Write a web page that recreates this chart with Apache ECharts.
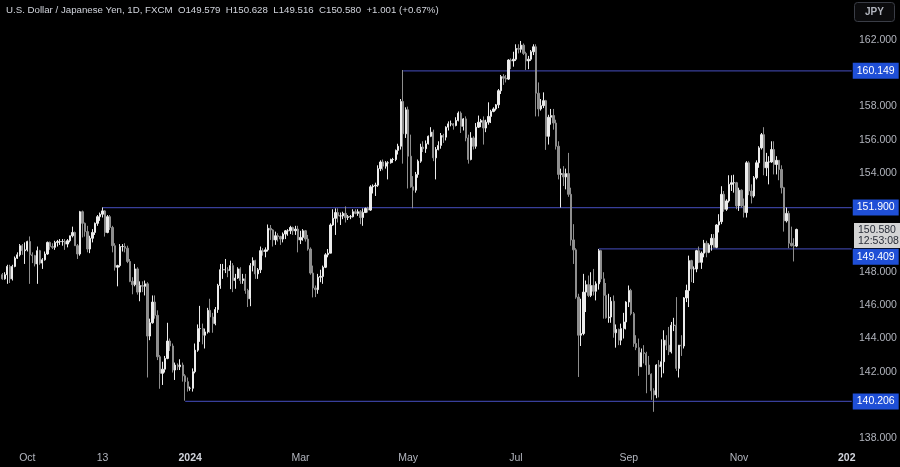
<!DOCTYPE html>
<html><head><meta charset="utf-8">
<script src="https://cdn.jsdelivr.net/npm/echarts@6/dist/echarts.min.js"></script>
<style>html,body{margin:0;padding:0;background:#000;}#c{width:900px;height:467px;}</style>
</head><body><div id="c"></div>
<script>
// ---- data ----
const titleText = 'U.S. Dollar / Japanese Yen, 1D, FXCM  O149.579  H150.628  L149.516  C150.580  +1.001 (+0.67%)';
const firstDay = '2023-09-18';   // first trading day shown
const totalSlots = 340;          // trading-day slots on the time axis (incl. empty future)
// daily candles: [open, high, low, close]
const ohlc = [
 [147.85,147.95,147.55,147.60],[147.60,148.00,147.55,147.85],[147.85,148.45,147.30,148.35],[148.35,148.45,147.35,147.60],[147.60,148.45,147.50,148.35],
 [148.35,148.95,148.30,148.85],[148.85,149.20,148.80,149.05],[149.05,149.70,148.95,149.60],[149.60,149.70,149.05,149.30],[149.30,149.80,148.50,149.35],
 [149.35,149.90,149.25,149.85],[149.85,150.16,147.30,149.05],[149.05,149.20,148.55,149.00],[149.00,149.05,148.35,148.50],[148.50,149.55,147.30,149.30],
 [149.30,149.35,148.45,148.55],[148.55,148.85,148.20,148.75],[148.75,149.25,148.70,149.10],[149.10,149.85,149.05,149.80],[149.80,149.85,149.35,149.55],
 [149.55,149.75,149.40,149.50],[149.50,149.90,149.35,149.80],[149.80,149.95,149.55,149.85],[149.85,150.00,149.65,149.85],[149.85,150.00,149.60,149.85],
 [149.85,150.00,149.35,149.70],[149.70,150.00,149.50,149.90],[149.90,150.20,149.80,150.20],[150.20,150.75,150.10,150.40],[150.40,150.45,149.60,149.60],
 [149.60,149.70,148.80,149.10],[149.10,151.70,149.00,151.65],[151.65,151.72,150.10,150.95],[150.95,151.00,150.15,150.45],[150.45,150.80,149.20,149.40],
 [149.40,150.20,149.15,150.05],[150.05,150.60,149.80,150.40],[150.40,151.00,150.25,150.95],[150.95,151.45,150.80,151.35],[151.35,151.60,151.10,151.50],
 [151.50,151.91,151.30,151.70],[151.70,151.75,150.15,150.40],[150.40,151.45,150.35,151.35],[151.35,151.45,150.55,150.70],[150.70,150.80,149.20,149.60],
 [149.60,149.75,148.10,148.30],[148.30,148.45,147.15,148.40],[148.40,149.70,148.30,149.55],[149.55,149.70,149.25,149.55],[149.55,149.75,149.20,149.45],
 [149.45,149.60,148.55,148.65],[148.65,148.80,147.40,147.45],[147.45,147.70,146.67,147.25],[147.25,148.50,147.15,148.20],[148.20,148.30,146.65,146.80],
 [146.80,147.45,146.25,147.20],[147.20,147.45,146.80,147.15],[147.15,147.50,146.60,147.30],[147.30,147.40,141.65,144.15],[144.15,145.20,143.90,144.95],
 [144.95,146.60,144.90,146.20],[146.20,146.60,145.20,145.40],[145.40,145.70,142.70,142.90],[142.90,143.00,140.97,141.90],[141.90,142.60,141.20,142.15],
 [142.15,142.95,141.95,142.80],[142.80,144.95,142.75,143.85],[143.85,144.00,143.25,143.55],[143.55,143.70,141.95,142.10],[142.10,142.55,141.50,142.40],
 [142.40,142.50,142.10,142.30],[142.30,142.75,142.10,142.40],[142.40,142.55,141.40,141.75],[141.75,141.85,140.25,141.40],[141.40,141.65,140.80,141.00],
 [141.00,141.10,140.85,141.00],[141.00,142.20,140.80,142.00],[142.00,143.70,141.90,143.30],[143.30,144.85,143.20,144.60],[144.60,145.97,143.80,144.60],
 [144.60,144.90,143.65,144.20],[144.20,144.60,143.40,144.40],[144.40,145.85,144.30,145.70],[145.70,146.40,144.35,145.30],[145.30,145.55,144.35,144.90],
 [144.90,145.90,144.80,145.75],[145.75,147.30,145.55,147.20],[147.20,148.50,147.00,148.15],[148.15,148.50,147.60,148.15],[148.15,148.80,147.95,148.15],
 [148.15,148.30,147.70,148.10],[148.10,148.70,146.98,148.40],[148.40,148.55,146.80,147.50],[147.50,147.90,147.00,147.65],[147.65,148.30,147.60,148.20],
 [148.20,148.30,147.30,147.50],[147.50,147.90,147.30,147.60],[147.60,147.90,146.70,146.90],[146.90,147.00,145.90,146.40],[146.40,148.55,145.95,148.40],
 [148.40,148.90,148.05,148.70],[148.70,148.75,147.60,147.90],[147.90,148.25,147.60,148.15],[148.15,149.55,147.95,149.30],[149.30,149.45,149.00,149.25],
 [149.25,149.50,148.90,149.35],[149.35,150.88,149.25,150.65],[150.65,150.85,149.95,150.55],[150.55,150.60,149.55,149.95],[149.95,150.45,149.65,150.20],
 [150.20,150.35,149.85,150.15],[150.15,150.20,149.65,150.00],[150.00,150.40,149.80,150.30],[150.30,150.55,150.00,150.50],[150.50,150.60,150.20,150.50],
 [150.50,150.80,150.30,150.70],[150.70,150.75,150.25,150.50],[150.50,150.80,150.25,150.60],[150.60,150.80,149.20,149.95],[149.95,150.50,149.70,150.10],
 [150.10,150.60,149.90,150.50],[150.50,150.55,149.85,150.00],[150.00,150.25,149.30,149.40],[149.40,149.50,147.85,147.95],[147.95,148.40,146.48,147.05],
 [147.05,147.20,146.50,146.95],[146.95,147.90,146.70,147.70],[147.70,148.15,147.40,147.75],[147.75,148.40,147.30,148.30],[148.30,149.15,148.25,149.05],
 [149.05,149.40,148.90,149.15],[149.15,150.95,149.15,150.85],[150.85,151.80,150.80,151.25],[151.25,151.85,150.25,151.60],[151.60,151.85,151.00,151.40],
 [151.40,151.60,150.85,151.40],[151.40,151.65,151.20,151.55],[151.55,151.97,151.00,151.30],[151.30,151.45,151.15,151.35],[151.35,151.45,151.20,151.35],
 [151.35,151.80,151.30,151.65],[151.65,151.80,151.50,151.55],[151.55,151.80,151.40,151.65],[151.65,151.75,150.90,151.30],[151.30,151.85,150.80,151.60],
 [151.60,151.90,151.60,151.85],[151.85,151.95,151.60,151.75],[151.75,153.25,151.70,153.15],[153.15,153.30,152.75,153.20],[153.20,153.40,152.60,153.25],
 [153.25,154.45,153.15,154.25],[154.25,154.75,154.10,154.65],[154.65,154.80,154.15,154.40],[154.40,154.70,154.25,154.60],[154.60,154.70,153.60,154.60],
 [154.60,154.85,154.55,154.80],[154.80,154.90,154.60,154.80],[154.80,155.40,154.70,155.35],[155.35,155.75,155.10,155.60],[155.60,158.45,155.40,158.30],
 [158.30,160.20,154.55,156.35],[156.35,157.95,156.10,157.80],[157.80,157.99,153.05,155.00],[155.00,156.30,153.10,153.15],[153.15,153.80,151.86,152.95],
 [152.95,154.05,152.80,153.90],[153.90,154.80,153.70,154.70],[154.70,155.75,154.60,155.55],[155.55,155.90,155.25,155.45],[155.45,155.95,155.20,155.75],
 [155.75,156.25,155.70,156.20],[156.20,156.75,156.15,156.45],[156.45,156.60,154.70,154.90],[154.90,155.55,153.60,155.40],[155.40,155.90,155.35,155.65],
 [155.65,156.40,155.45,156.25],[156.25,156.35,155.80,156.15],[156.15,156.80,155.95,156.75],[156.75,157.10,156.55,156.95],[156.95,157.15,156.80,156.95],
 [156.95,157.00,156.60,156.85],[156.85,157.35,156.80,157.15],[157.15,157.70,157.10,157.60],[157.60,157.70,156.40,156.80],[156.80,157.30,156.55,157.25],
 [157.25,157.40,155.90,156.10],[156.10,156.30,154.55,154.80],[154.80,156.45,154.75,156.10],[156.10,156.20,155.40,155.60],[155.60,157.00,155.45,156.75],
 [156.75,157.45,156.70,157.05],[157.05,157.25,156.75,157.15],[157.15,157.40,155.70,156.70],[156.70,157.20,156.45,157.05],[157.05,158.25,156.90,157.40],
 [157.40,157.80,157.00,157.70],[157.70,157.95,157.65,157.85],[157.85,158.15,157.75,158.10],[158.10,159.05,157.90,158.95],[158.95,159.90,158.75,159.80],
 [159.80,159.95,159.30,159.70],[159.70,159.90,159.45,159.65],[159.65,160.85,159.60,160.80],[160.80,160.90,160.25,160.75],[160.75,161.30,160.40,160.85],
 [160.85,161.75,160.75,161.50],[161.50,161.75,161.20,161.45],[161.45,161.95,161.25,161.70],[161.70,161.80,161.10,161.20],[161.20,161.30,160.20,160.75],
 [160.75,161.05,160.25,160.85],[160.85,161.40,160.75,161.30],[161.30,161.75,161.10,161.60],[161.60,161.75,157.40,158.80],[158.80,159.45,157.40,157.85],
 [157.85,158.45,157.75,158.05],[158.05,158.85,157.90,158.35],[158.35,158.40,155.38,156.20],[156.20,157.50,155.70,157.35],[157.35,157.85,156.90,157.45],
 [157.45,157.85,156.60,157.00],[157.00,157.20,155.40,155.60],[155.60,155.90,153.60,153.90],[153.90,154.25,151.90,153.95],[153.95,154.40,153.20,153.75],
 [153.75,154.25,153.00,153.95],[153.95,155.20,152.55,152.70],[152.70,153.10,149.60,149.95],[149.95,150.90,148.50,149.35],[149.35,149.45,146.40,146.50],
 [146.50,146.70,141.68,144.20],[144.20,146.40,143.55,144.30],[144.30,147.90,144.20,146.80],[146.80,147.50,145.60,147.25],[147.25,147.80,146.50,146.60],
 [146.60,148.00,146.50,147.20],[147.20,148.20,146.60,146.85],[146.85,147.45,146.30,147.30],[147.30,149.40,146.95,149.30],[149.30,149.35,147.40,147.60],
 [147.60,148.00,145.20,146.60],[146.60,147.35,145.20,145.25],[145.25,146.70,144.95,145.30],[145.30,146.50,144.95,146.25],[146.25,146.60,144.05,144.35],
 [144.35,144.85,143.45,144.55],[144.55,144.60,143.60,143.90],[143.90,144.90,143.60,144.60],[144.60,145.55,144.00,145.00],[145.00,146.25,144.55,146.20],
 [146.20,147.20,145.90,146.90],[146.90,147.00,145.40,145.50],[145.50,145.60,143.50,143.70],[143.70,144.20,143.30,143.45],[143.45,144.00,141.75,142.30],
 [142.30,143.40,142.30,143.15],[143.15,143.60,142.50,143.10],[143.10,143.20,140.70,142.40],[142.40,142.95,141.80,141.85],[141.85,141.90,140.30,140.85],
 [140.85,141.00,139.58,140.60],[140.60,142.45,140.40,142.40],[142.40,142.70,140.45,142.30],[142.30,143.95,141.65,142.60],[142.60,144.50,141.90,143.90],
 [143.90,144.20,143.30,143.60],[143.60,144.70,143.00,143.20],[143.20,145.00,143.10,144.80],[144.80,145.25,144.45,144.80],[144.80,146.50,142.05,142.20],
 [142.20,143.60,141.65,143.60],[143.60,144.20,142.95,143.55],[143.55,146.50,143.40,146.45],[146.45,147.25,146.20,146.90],[146.90,149.00,145.90,148.70],
 [148.70,148.75,147.40,148.20],[148.20,148.35,147.35,148.20],[148.20,149.35,148.00,149.30],[149.30,149.55,148.55,148.60],[148.60,149.25,148.20,149.15],
 [149.15,149.95,148.90,149.75],[149.75,149.90,148.90,149.20],[149.20,149.75,149.15,149.65],[149.65,150.30,149.30,150.05],[150.05,150.30,149.50,149.50],
 [149.50,150.90,149.45,150.85],[150.85,151.50,150.40,151.05],[151.05,153.19,150.90,152.70],[152.70,152.90,151.65,151.80],[151.80,152.40,151.70,152.30],
 [152.30,153.85,152.20,153.30],[153.30,153.85,152.90,153.40],[153.40,153.88,152.80,153.40],[153.40,153.45,151.80,152.00],[152.00,153.10,151.70,152.95],
 [152.95,153.00,151.90,152.00],[152.00,152.45,151.30,151.60],[151.60,154.70,151.30,154.60],[154.60,154.70,152.65,152.90],[152.90,153.30,152.15,152.60],
 [152.60,153.80,152.50,153.70],[153.70,154.75,153.60,154.60],[154.60,155.60,154.30,155.50],[155.50,156.40,155.40,156.30],[156.30,156.75,153.85,154.30],
 [154.30,155.20,153.80,154.65],[154.65,155.00,153.30,154.65],[154.65,155.90,154.60,155.40],[155.40,155.90,153.90,154.50],[154.50,155.00,153.90,154.75],
 [154.75,154.75,153.55,154.20],[154.20,154.45,152.75,153.10],[153.10,153.15,150.45,151.10],[151.10,151.90,151.00,151.55],[151.55,151.70,149.45,149.75],
 [149.75,150.75,149.55,149.60],[149.60,150.05,148.65,149.579],[149.579,150.628,149.516,150.580]
];
const levelValues = [160.149, 151.900, 149.409, 140.206];
const levelStartDates = ['2024-04-29', '2023-11-13', '2024-08-15', '2023-12-28'];
const levelLabelShift = [0, 0, 8, 0];   // badge pushed below the live-price badge, as on the reference
const lastPrice = 150.580;
const lastTimeText = '12:53:08';
const xTickDates = ['2023-10-02','2023-11-13','2024-01-01','2024-03-01','2024-05-01','2024-07-01','2024-09-02','2024-11-01','2025-01-01'];
const xTickLabels = ['Oct','13','2024','Mar','May','Jul','Sep','Nov','202'];
const xTickBold = ['2024','202'];
const yTicksShown = [138, 142, 144, 146, 148, 154, 156, 158, 162];

// ---- build ----
function weekdays(start, n) {
  const out = []; const d = new Date(start + 'T00:00:00Z');
  while (out.length < n) {
    const w = d.getUTCDay();
    if (w !== 0 && w !== 6) out.push(d.toISOString().slice(0, 10));
    d.setUTCDate(d.getUTCDate() + 1);
  }
  return out;
}
const dates = weekdays(firstDay, totalSlots);
const lastCat = dates[dates.length - 1];
const candleData = ohlc.map(r => [r[0], r[3], r[2], r[1]]);
const tickMap = {};
xTickDates.forEach((d, i) => tickMap[d] = xTickLabels[i]);

const FONT = 'Liberation Sans';
const lineColor = '#383f9a';
const badgeBlue = '#1f4fd6';

const levelSeries = levelValues.map((v, i) => ({
  type: 'line', name: 'level' + i, silent: true, symbol: 'none', z: 1,
  data: [[levelStartDates[i], v], [lastCat, v]],
  lineStyle: { color: lineColor, width: 1.3, type: 'solid' },
  itemStyle: { color: lineColor },
  endLabel: { show: true, formatter: v.toFixed(3), backgroundColor: badgeBlue, color: '#ffffff',
              fontSize: 10.5, fontFamily: FONT, padding: [3, 4, 2, 4], distance: 1, offset: [0, levelLabelShift[i]] }
}));

const priceLine = {
  yAxis: lastPrice,
  lineStyle: { color: 'rgba(0,0,0,0)', width: 0 },
  label: { show: true, position: 'end', formatter: lastPrice.toFixed(3) + '\n' + lastTimeText,
           backgroundColor: '#d4d4d4', color: '#2a2e39', fontSize: 10.5, fontFamily: FONT, lineHeight: 11,
           padding: [2, 4, 1, 4], distance: 1, offset: [0, 6] }
};

const chart = echarts.init(document.getElementById('c'), null, { renderer: 'canvas' });
chart.setOption({
  backgroundColor: '#000000',
  animation: false,
  textStyle: { fontFamily: FONT },
  title: { text: titleText, left: 6, top: 5, padding: 0,
           textStyle: { color: '#d1d4dc', fontSize: 9.7, fontWeight: 'normal', fontFamily: FONT } },
  graphic: [{
    type: 'group', right: 5, top: 2,
    children: [
      { type: 'rect', shape: { x: 0, y: 0, width: 40, height: 19, r: 3 },
        style: { fill: '#0b0b0d', stroke: '#3a3d46', lineWidth: 1 } },
      { type: 'text', x: 20, y: 10, style: { text: 'JPY', fill: '#b2b5be', font: 'bold 10px ' + FONT, textAlign: 'center', textVerticalAlign: 'middle' } }
    ]
  }],
  grid: { left: 1, right: 47, top: 7, bottom: 29 },
  xAxis: {
    type: 'category', data: dates, boundaryGap: true,
    axisLine: { show: false }, axisTick: { show: false }, splitLine: { show: false },
    axisLabel: {
      interval: (idx, val) => tickMap[val] !== undefined,
      formatter: val => { const t = tickMap[val] || ''; return xTickBold.indexOf(t) >= 0 ? '{b|' + t + '}' : t; },
      color: '#b2b5be', fontSize: 10.5, margin: 15, fontFamily: FONT,
      rich: { b: { fontWeight: 'bold', color: '#d1d4dc', fontSize: 10.5, fontFamily: FONT } }
    }
  },
  yAxis: {
    type: 'value', position: 'right', min: 138, max: 164, interval: 2, scale: true,
    axisLine: { show: false }, axisTick: { show: false }, splitLine: { show: false },
    axisLabel: { color: '#b2b5be', fontSize: 10.5, margin: 6, fontFamily: FONT,
                 formatter: v => yTicksShown.indexOf(v) >= 0 ? v.toFixed(3) : '' }
  },
  series: levelSeries.concat([{
    type: 'candlestick', data: candleData, barWidth: 1.8, z: 2,
    itemStyle: { color: '#ececec', color0: '#8e8e8e', borderColor: '#ececec', borderColor0: '#8e8e8e', borderWidth: 1 },
    markLine: { silent: true, symbol: ['none', 'none'], animation: false,
                data: [priceLine] }
  }])
});
</script></body></html>
